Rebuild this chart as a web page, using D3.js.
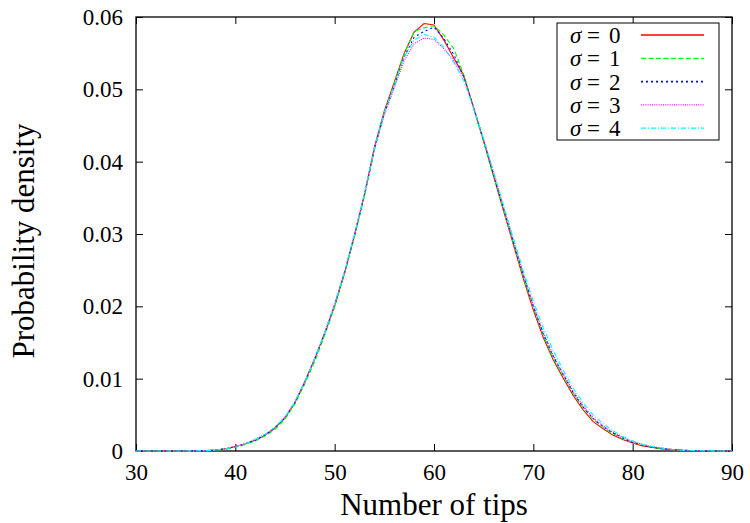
<!DOCTYPE html>
<html>
<head>
<meta charset="utf-8">
<script src="https://cdn.jsdelivr.net/npm/d3@7"></script>
<style>
  body { margin: 0; background: #fff; }
  svg text { font-family: "Liberation Serif", "DejaVu Serif", serif !important; fill: #000; }
</style>
</head>
<body>
<div id="chart"></div>
<script>
// number of tips (x values)
var tips = [30,31,32,33,34,35,36,37,38,39,40,41,42,43,44,45,46,47,48,49,
            50,51,52,53,54,55,56,57,58,59,60,61,62,63,64,65,66,67,68,69,
            70,71,72,73,74,75,76,77,78,79,80,81,82,83,84,85,86,87,88,89,90];

var sigma0 = [0,0,0,0,0,0.00001,0.00002,0.00005,0.00012,0.0003,
              0.0006,0.001,0.0015,0.0022,0.0032,0.0046,0.0067,0.0096,0.0128,0.0163,
              0.0201,0.0246,0.0298,0.0355,0.0420,0.0470,0.0510,0.0550,0.0579,0.0591,
              0.0589,0.0568,0.0543,0.0519,0.0474,0.0428,0.0380,0.0332,0.0285,0.0238,
              0.0195,0.0157,0.0126,0.0101,0.0077,0.0057,0.0041,0.0031,0.0022,0.0016,
              0.0011,0.0007,0.0005,0.0003,0.0002,0.0001,0.00006,0.00003,0.00001,0,0];
var sigma1 = [0,0,0,0,0,0.00001,0.00002,0.00004,0.0001,0.00025,
              0.0005,0.0009,0.0014,0.0021,0.0030,0.0044,0.0065,0.0093,0.0124,0.0160,
              0.0199,0.0245,0.0296,0.0352,0.0416,0.0468,0.0508,0.0549,0.0580,0.0585,
              0.0588,0.0575,0.0556,0.0520,0.0473,0.0427,0.0380,0.0333,0.0287,0.0241,
              0.0198,0.0160,0.0129,0.0104,0.0080,0.0060,0.0044,0.0033,0.0024,0.0017,
              0.0012,0.0008,0.0005,0.0003,0.0002,0.0001,0.00006,0.00003,0.00001,0,0];
var sigma2 = [0,0,0,0,0,0.00001,0.00002,0.00005,0.00012,0.0003,
              0.0006,0.001,0.0015,0.0022,0.0032,0.0046,0.0067,0.0095,0.0127,0.0163,
              0.0202,0.0247,0.0299,0.0354,0.0418,0.0467,0.0505,0.0545,0.0572,0.0580,
              0.0586,0.0570,0.0548,0.0517,0.0474,0.0429,0.0382,0.0335,0.0289,0.0243,
              0.0200,0.0162,0.0131,0.0106,0.0081,0.0061,0.0045,0.0034,0.0025,0.0018,
              0.0012,0.0008,0.0005,0.0003,0.0002,0.0001,0.00006,0.00003,0.00001,0,0];
var sigma3 = [0,0,0,0,0,0.00001,0.00002,0.00005,0.00012,0.0003,
              0.0006,0.001,0.0016,0.0023,0.0033,0.0047,0.0068,0.0096,0.0128,0.0164,
              0.0203,0.0248,0.0300,0.0355,0.0417,0.0465,0.0502,0.0540,0.0563,0.0571,
              0.0569,0.0556,0.0540,0.0515,0.0475,0.0431,0.0385,0.0338,0.0291,0.0245,
              0.0202,0.0164,0.0133,0.0107,0.0083,0.0063,0.0046,0.0035,0.0026,0.0019,
              0.0013,0.0009,0.0006,0.0004,0.0002,0.0001,0.00006,0.00003,0.00001,0,0];
var sigma4 = [0,0,0,0,0,0.00001,0.00002,0.00005,0.00012,0.0003,
              0.0006,0.001,0.0016,0.0023,0.0033,0.0047,0.0068,0.0096,0.0128,0.0164,
              0.0203,0.0248,0.0300,0.0356,0.0419,0.0468,0.0505,0.0545,0.0568,0.0576,
              0.0572,0.0558,0.0537,0.0512,0.0473,0.0431,0.0386,0.0340,0.0294,0.0249,
              0.0207,0.0170,0.0139,0.0112,0.0087,0.0067,0.0050,0.0038,0.0028,0.0020,
              0.0014,0.0009,0.0006,0.0004,0.0002,0.0001,0.00007,0.00004,0.00002,0,0];

var seriesNames = ["0", "1", "2", "3", "4"];
var seriesValues = [sigma0, sigma1, sigma2, sigma3, sigma4];
var seriesColors = ["#ff0000", "#00ff00", "#0000ff", "#ff00ff", "#00ffff"];
var seriesDash = [null, "5,2.5", "2,3", "1,1.2", "5,2,1,2"];

var xTicks = [30, 40, 50, 60, 70, 80, 90];
var yTicks = [0, 0.01, 0.02, 0.03, 0.04, 0.05, 0.06];

var margin = {top: 17, right: 18, bottom: 72, left: 136},
    width = 750 - margin.left - margin.right,
    height = 523 - margin.top - margin.bottom;

var svg = d3.select("#chart")
  .append("svg")
    .attr("width", 750)
    .attr("height", 523)
  .append("g")
    .attr("transform", "translate(" + margin.left + "," + margin.top + ")");

var x = d3.scaleLinear().domain([30, 90]).range([0, width]);
var y = d3.scaleLinear().domain([0, 0.06]).range([height, 0]);

// axes, ticks pointing inward on all four sides
svg.append("g")
  .attr("class", "xAxis")
  .attr("transform", "translate(0," + height + ")")
  .call(d3.axisBottom(x).tickValues(xTicks).tickSize(-7).tickPadding(13).tickFormat(d3.format("d")))
  .attr("font-family", "Liberation Serif")
  .attr("font-size", 23);
svg.append("g")
  .attr("class", "xAxis")
  .call(d3.axisTop(x).tickValues(xTicks).tickSize(-7).tickFormat(""));
svg.append("g")
  .attr("class", "yAxis")
  .call(d3.axisLeft(y).tickValues(yTicks).tickSize(-7).tickPadding(13)
    .tickFormat(function(d) { return d === 0 ? "0" : d3.format(".2f")(d); }))
  .attr("font-family", "Liberation Serif")
  .attr("font-size", 23);
svg.append("g")
  .attr("class", "yAxis")
  .attr("transform", "translate(" + width + ",0)")
  .call(d3.axisRight(y).tickValues(yTicks).tickSize(-7).tickFormat(""));

svg.selectAll(".domain").remove();
svg.selectAll(".tick line").attr("stroke", "#000").attr("stroke-width", 1);

// frame
svg.append("rect")
  .attr("x", 0).attr("y", 0)
  .attr("width", width).attr("height", height)
  .attr("fill", "none")
  .attr("stroke", "#000")
  .attr("stroke-width", 1.3);

// curves
var line = d3.line()
  .x(function(d) { return x(d[0]); })
  .y(function(d) { return y(d[1]); });

seriesValues.forEach(function(vals, i) {
  svg.append("path")
    .datum(tips.map(function(t, j) { return [t, vals[j]]; }))
    .attr("d", line)
    .attr("fill", "none")
    .attr("stroke", seriesColors[i])
    .attr("stroke-width", 1.1)
    .attr("stroke-dasharray", seriesDash[i]);
});

// legend
var legend = svg.append("g")
  .attr("transform", "translate(" + (557 - margin.left) + "," + (23 - margin.top) + ")")
  .attr("font-family", "Liberation Serif")
  .attr("font-size", 23);
legend.append("rect")
  .attr("width", 162).attr("height", 117)
  .attr("fill", "#fff")
  .attr("stroke", "#000")
  .attr("stroke-width", 1);

seriesNames.forEach(function(n, i) {
  var yy = 12 + i * 23.3;
  legend.append("text")
    .attr("x", 13).attr("y", yy + 8)
    .style("font-style", "italic")
    .text("σ");
  legend.append("text")
    .attr("x", 30).attr("y", yy + 8)
    .text("=");
  legend.append("text")
    .attr("x", 52).attr("y", yy + 8)
    .text(n);
  legend.append("line")
    .attr("x1", 84).attr("x2", 147)
    .attr("y1", yy).attr("y2", yy)
    .attr("stroke", seriesColors[i])
    .attr("stroke-width", i === 2 ? 1.6 : 1.3)
    .attr("stroke-dasharray", seriesDash[i]);
});

// axis labels
svg.append("text")
  .attr("text-anchor", "middle")
  .attr("x", 434 - margin.left)
  .attr("y", 515 - margin.top)
  .attr("font-size", 31)
  .text("Number of tips");

svg.append("text")
  .attr("text-anchor", "middle")
  .attr("transform", "translate(" + (34 - margin.left) + "," + (241 - margin.top) + ") rotate(-90)")
  .attr("font-size", 31)
  .text("Probability density");
</script>
</body>
</html>
